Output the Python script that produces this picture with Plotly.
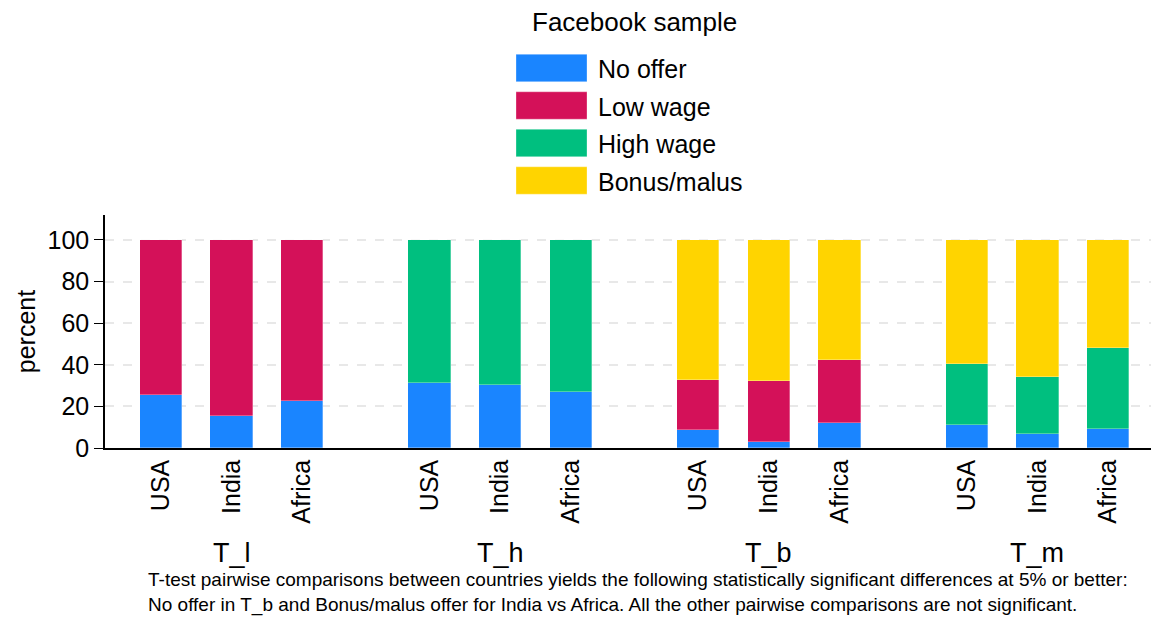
import plotly.graph_objects as go

# data (percent)
treatments = ["T_l", "T_h", "T_b", "T_m"]
countries = ["USA", "India", "Africa"]
series_names = ["No offer", "Low wage", "High wage", "Bonus/malus"]
colors = ["#1a85ff", "#d41159", "#00bf7f", "#ffd400"]

no_offer = [25.6, 15.2, 22.4, 31.4, 30.3, 26.7, 8.5, 2.7, 12.2, 11.1, 6.9, 8.9]
low_wage = [74.4, 84.8, 77.6, 0, 0, 0, 24.3, 29.7, 29.9, 0, 0, 0]
high_wage = [0, 0, 0, 68.6, 69.7, 73.3, 0, 0, 0, 29.1, 27.0, 39.0]
bonus_malus = [0, 0, 0, 0, 0, 0, 67.2, 67.6, 57.9, 59.8, 66.1, 52.1]

note = ("T-test pairwise comparisons between countries yields the following statistically significant differences at 5% or better:<br>"
        "No offer in T_b and Bonus/malus offer for India vs Africa. All the other pairwise comparisons are not significant.")

GROUP_STEP = 3.8
xpos = [g * GROUP_STEP + i for g in range(len(treatments)) for i in range(len(countries))]
xlabels = countries * len(treatments)

FONT = "Liberation Sans, Arial, Helvetica, sans-serif"
fig = go.Figure()
for name, vals, col in zip(series_names, [no_offer, low_wage, high_wage, bonus_malus], colors):
    fig.add_trace(go.Bar(x=xpos, y=vals, name=name, width=0.6,
                         marker=dict(color=col, line=dict(width=0.6, color="rgba(255,255,255,0.5)")),
                         showlegend=False))

# page body has an 8px margin, so the figure starts at (8, 8)
OFF = 8
W, H = 1159 - OFF, 627 - OFF
L, T, B = 105 - OFF, 215 - OFF, 179
pw, ph = W - L, H - T - B
px = lambda x: (x - OFF - L) / pw          # page pixel -> paper x
py = lambda y: (H - B - (y - OFF)) / ph    # page pixel -> paper y

shapes, annos = [], []
# custom legend (large swatches)
annos.append(dict(text="Facebook sample", x=px(634), y=py(22), xref="paper", yref="paper",
                  xanchor="center", yanchor="middle", showarrow=False, borderpad=0,
                  font=dict(size=26, color="black")))
for k, (name, col) in enumerate(zip(series_names, colors)):
    yc = 68 + k * 37.5
    shapes.append(dict(type="rect", xref="paper", yref="paper", x0=px(516), x1=px(587),
                       y0=py(yc - 13.7), y1=py(yc + 13.7), fillcolor=col,
                       line=dict(width=0.6, color="rgba(255,255,255,0.5)")))
    annos.append(dict(text=name, x=px(596), y=py(yc + 1), xref="paper", yref="paper",
                      xanchor="left", yanchor="middle", showarrow=False,
                      font=dict(size=25, color="black")))
# group labels
for g, t in enumerate(treatments):
    annos.append(dict(text=t, x=g * GROUP_STEP + 1, y=py(553), xref="x", yref="paper",
                      xanchor="center", yanchor="middle", showarrow=False,
                      font=dict(size=27, color="black")))
annos.append(dict(text=note, x=px(146), y=py(592), xref="paper", yref="paper",
                  xanchor="left", yanchor="middle", align="left", showarrow=False,
                  font=dict(size=19, color="black")))

fig.update_layout(barmode="stack", width=W, height=H, plot_bgcolor="white", paper_bgcolor="white",
                  margin=dict(l=L, r=0, t=T, b=B), font=dict(family=FONT, color="black"),
                  shapes=shapes, annotations=annos, bargap=0)
fig.update_xaxes(range=[-0.79, 14.12], tickvals=xpos, ticktext=xlabels, tickangle=-90,
                 tickfont=dict(size=25), ticks="", ticklabelstandoff=0,
                 showline=True, linecolor="black", linewidth=1.5, showgrid=False, zeroline=False,
                 automargin=False)
fig.update_yaxes(range=[0, 112], tickvals=[0, 20, 40, 60, 80, 100], tickfont=dict(size=25),
                 ticks="outside", ticklen=9, tickcolor="black", showline=True, linecolor="black",
                 linewidth=1.5, showgrid=True, gridcolor="#e8e8e8", gridwidth=1.5, griddash="dash",
                 zeroline=False, automargin=False,
                 title=dict(text="percent", font=dict(size=25), standoff=5))
fig.write_html("out.html")
